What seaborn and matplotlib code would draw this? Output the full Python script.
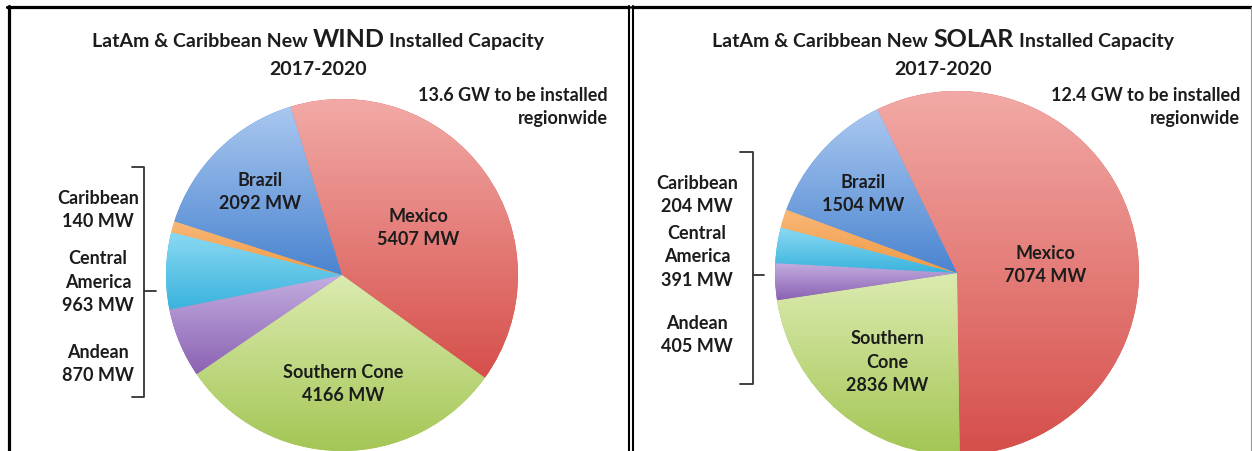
import matplotlib
matplotlib.use("Agg")
import matplotlib.pyplot as plt
import numpy as np
import seaborn as sns
from matplotlib.colors import LinearSegmentedColormap

# data
regions = ["Mexico", "Southern Cone", "Andean", "Central America", "Caribbean", "Brazil"]
wind_mw = [5407, 4166, 870, 963, 140, 2092]
solar_mw = [7074, 2836, 405, 391, 204, 1504]
wind_total_gw = 13.6
solar_total_gw = 12.4

# slice colours, light (top) to dark (bottom) like the excel gradient
light = ["#f2aaa6", "#dcebb0", "#c3aee0", "#8ad9f3", "#f9b878", "#aac8f0"]
dark = ["#d64f4b", "#a4c655", "#8b62b3", "#3ab3dd", "#f09a45", "#4a84d0"]

W, H = 1252, 451
TXT = "#1c1c1c"
LS = 1.45

sns.set_theme(style="white")
plt.rcParams["font.family"] = ["Lato", "DejaVu Sans"]
plt.rcParams["font.weight"] = "bold"

fig = plt.figure(figsize=(W / 100, H / 100), dpi=100)
ax = fig.add_axes([0, 0, 1, 1])


def py(y):
    # pixel row (top origin) -> data y
    return H - y


def draw_pie(values, cx, cy, r, start):
    wedges, _ = ax.pie(
        values,
        colors=sns.color_palette(dark),
        startangle=start,
        counterclock=False,
        center=(cx, py(cy)),
        radius=r,
        wedgeprops=dict(linewidth=0),
    )
    grad = np.linspace(0, 1, 256).reshape(-1, 1)
    for w, lo, hi in zip(wedges, light, dark):
        bb = w.get_path().get_extents()
        cmap = LinearSegmentedColormap.from_list("g", [hi, lo])
        im = ax.imshow(grad, cmap=cmap, origin="lower", aspect="auto",
                       extent=(bb.x0, bb.x1, max(bb.y0, 0), bb.y1), zorder=2)
        im.set_clip_path(w)
    return wedges


def title(cx, kind):
    fig.canvas.draw()
    r = fig.canvas.get_renderer()
    parts = [("LatAm & Caribbean New", 14), (kind, 18), ("Installed Capacity", 14)]
    objs = [ax.text(0, 0, s, fontsize=fs, color=TXT, ha="left", va="baseline")
            for s, fs in parts]
    widths = [o.get_window_extent(r).width for o in objs]
    gap = 5
    total = sum(widths) + gap * 2
    x = cx - total / 2
    for o, wd in zip(objs, widths):
        o.set_position((x, py(47)))
        x += wd + gap
    ax.text(cx, py(75), "2017-2020", fontsize=14, color=TXT, ha="center", va="baseline")


def bracket(x, top, bottom, left, tick_y, right):
    ax.plot([left, x, x, left], [py(top), py(top), py(bottom), py(bottom)],
            color="#333333", lw=1.3, solid_joinstyle="round")
    ax.plot([x, right], [py(tick_y), py(tick_y)], color="#333333", lw=1.3)


def lbl(x, y, s, ha="center"):
    ax.text(x, py(y), s, fontsize=13, color=TXT, ha=ha, va="center",
            linespacing=LS, multialignment=ha, zorder=5)


# wind panel
draw_pie(wind_mw, 342, 275, 176, 107)
# solar panel
draw_pie(solar_mw, 957, 273, 182, 116)

ax.set_xlim(0, W)
ax.set_ylim(0, H)
ax.set_aspect("auto")
ax.axis("off")

title(318, "WIND")
title(943, "SOLAR")

lbl(608, 107, f"{wind_total_gw} GW to be installed\nregionwide", ha="right")
lbl(1240, 107, f"{solar_total_gw} GW to be installed\nregionwide", ha="right")

# slice labels
lbl(260, 192, f"{regions[5]}\n{wind_mw[5]} MW")
lbl(418, 228, f"{regions[0]}\n{wind_mw[0]} MW")
lbl(343, 384, f"{regions[1]}\n{wind_mw[1]} MW")
lbl(98, 210, f"{regions[4]}\n{wind_mw[4]} MW")
lbl(98, 282, f"Central\nAmerica\n{wind_mw[3]} MW")
lbl(98, 364, f"{regions[2]}\n{wind_mw[2]} MW")
bracket(144, 167, 397, 132, 291, 156)

lbl(863, 194, f"{regions[5]}\n{solar_mw[5]} MW")
lbl(1045, 265, f"{regions[0]}\n{solar_mw[0]} MW")
lbl(887, 362, f"Southern\nCone\n{solar_mw[1]} MW")
lbl(697, 195, f"{regions[4]}\n{solar_mw[4]} MW")
lbl(697, 257, f"Central\nAmerica\n{solar_mw[3]} MW")
lbl(697, 335, f"{regions[2]}\n{solar_mw[2]} MW")
bracket(753, 152, 384, 740, 275, 764)

# panel frames
ax.plot([8.5, 8.5], [py(6), 0], color="black", lw=2.3)
ax.plot([7, 629], [py(7), py(7)], color="black", lw=2.3)
ax.plot([628.5, 628.5], [py(6), 0], color="black", lw=1.5)
ax.plot([632.5, 632.5], [py(6), 0], color="black", lw=1.5)
ax.plot([632, W], [py(7), py(7)], color="black", lw=2.3)
ax.plot([W - 1.5, W - 1.5], [py(7), 0], color="#9a9a9a", lw=0.8)

fig.savefig("out.png", dpi=100)
